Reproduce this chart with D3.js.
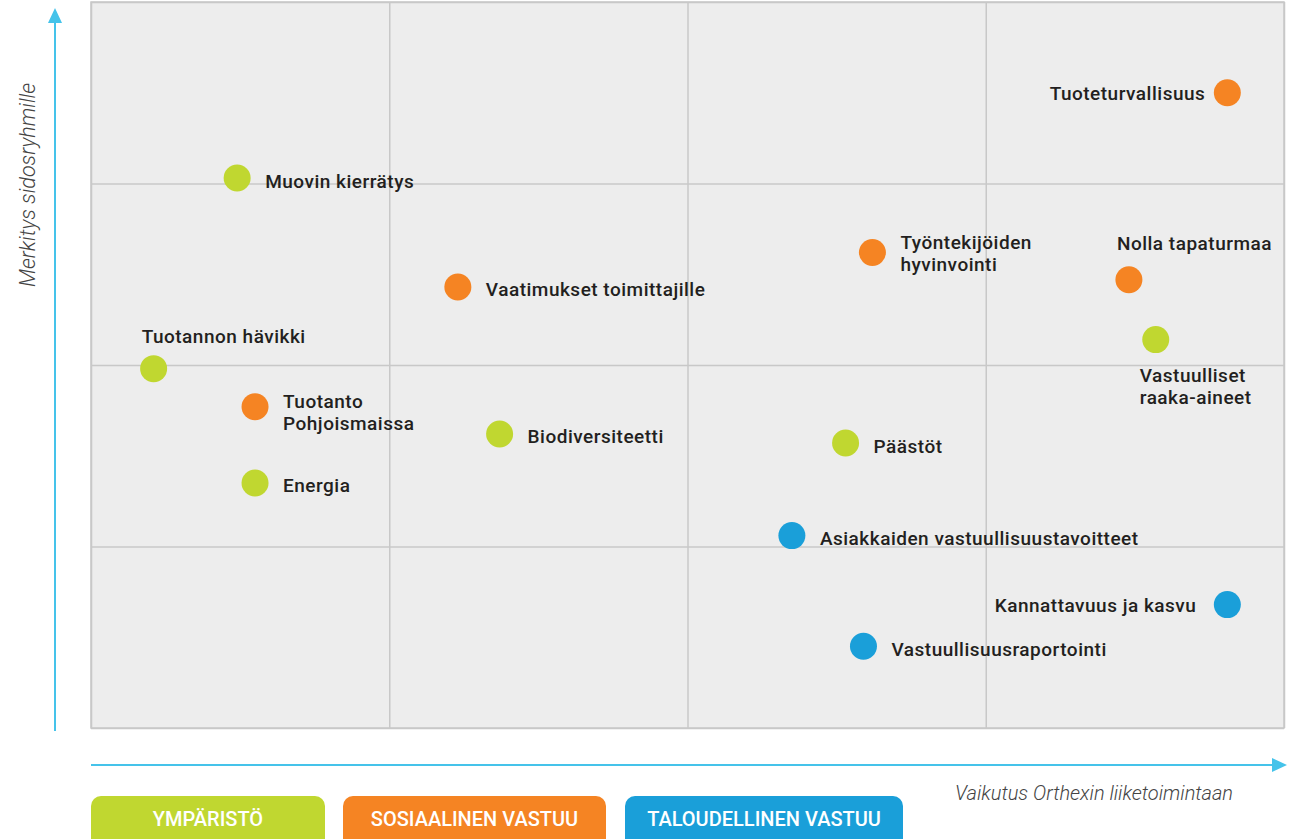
<!DOCTYPE html>
<html><head><meta charset="utf-8">
<script src="https://cdn.jsdelivr.net/npm/d3@7"></script>
<style>body{margin:0;background:#fff;}svg{display:block;}</style>
</head><body>
<svg id="chart" width="1294" height="839"></svg>
<script>
// ---- data ----
const topics = ["Tuoteturvallisuus","Muovin kierrätys","Työntekijöiden\nhyvinvointi","Nolla tapaturmaa","Vaatimukset toimittajille","Vastuulliset\nraaka-aineet","Tuotannon hävikki","Tuotanto\nPohjoismaissa","Biodiversiteetti","Päästöt","Energia","Asiakkaiden vastuullisuustavoitteet","Kannattavuus ja kasvu","Vastuullisuusraportointi"];
const impact =     [3.81, 0.49, 2.62, 3.48, 1.23, 3.57, 0.21, 0.55, 1.37, 2.53, 0.55, 2.35, 3.81, 2.59];
const importance = [3.50, 3.03, 2.62, 2.47, 2.43, 2.14, 1.98, 1.77, 1.62, 1.57, 1.35, 1.06, 0.68, 0.45];
const group =      ["S","E","S","S","S","E","E","S","E","E","E","T","T","T"];
const groupKeys = ["E","S","T"];
const groupNames = ["YMPÄRISTÖ","SOSIAALINEN VASTUU","TALOUDELLINEN VASTUU"];
const xTitle = "Vaikutus Orthexin liiketoimintaan";
const yTitle = "Merkitys sidosryhmille";
// label placement (style only): r=right, l=left, a=above, b=below
const labelSide = ["l","r","r","a","r","b","a","r","r","r","r","r","l","r"];

// ---- layout ----
const svg = d3.select("#chart");
const L = 91, R = 1284, T = 2, B = 728;
const x = d3.scaleLinear().domain([0,4]).range([L,R]);
const y = d3.scaleLinear().domain([0,4]).range([B,T]);
const color = d3.scaleOrdinal().domain(groupKeys).range(["#c0d730","#f58423","#1a9fd9"]);

svg.append("rect").attr("x",L).attr("y",T).attr("width",R-L).attr("height",B-T)
  .attr("fill","#ededed").attr("stroke","#c8c8c8").attr("stroke-width",1.5);

const gx = svg.append("g").attr("transform",`translate(0,${B})`)
  .call(d3.axisBottom(x).ticks(4).tickSize(-(B-T)).tickFormat(""));
const gy = svg.append("g").attr("transform",`translate(${L},0)`)
  .call(d3.axisLeft(y).ticks(4).tickSize(-(R-L)).tickFormat(""));
[gx,gy].forEach(g=>{g.select(".domain").remove();
  g.selectAll(".tick line").attr("stroke","#c8c8c8").attr("stroke-width",1.5);});

// arrows
const ac = "#45c3ea";
svg.append("line").attr("x1",55).attr("x2",55).attr("y1",731).attr("y2",20).attr("stroke",ac).attr("stroke-width",2);
svg.append("path").attr("d","M55,8 L48,23 L62,23 Z").attr("fill",ac);
svg.append("line").attr("x1",91).attr("x2",1274).attr("y1",765).attr("y2",765).attr("stroke",ac).attr("stroke-width",2);
svg.append("path").attr("d","M1287,765 L1272,758 L1272,772 Z").attr("fill",ac);

svg.append("text").attr("x",1094).attr("y",800).attr("text-anchor","middle")
  .attr("font-family","Roboto").attr("font-weight",300).attr("font-style","italic")
  .attr("font-size",20).attr("fill","#444").text(xTitle);
svg.append("text").attr("transform","translate(35,185) rotate(-90)").attr("text-anchor","middle")
  .attr("font-family","Roboto").attr("font-weight",300).attr("font-style","italic")
  .attr("font-size",21.5).attr("fill","#444").text(yTitle);

// points
const idx = d3.range(topics.length);
const g = svg.append("g");
g.selectAll("circle").data(idx).join("circle")
  .attr("cx",i=>x(impact[i])).attr("cy",i=>y(importance[i])).attr("r",13.5)
  .attr("fill",i=>color(group[i]));

const lh = 22;
const labelRows = [];
idx.forEach(i=>{
  const cx = x(impact[i]), cy = y(importance[i]);
  const lines = topics[i].split("\n");
  const s = labelSide[i];
  let tx, ty, anchor="start";
  if(s==="r"){ tx=cx+28; ty = lines.length>1 ? cy+7-(i===7?6:10) : cy+9.5; }
  else if(s==="l"){ tx=cx-(i===12?31:22); ty=cy+7; anchor="end"; }
  else if(s==="a"){ tx=cx-12; ty=cy-(i===6?26:30); }
  else { tx=cx-16; ty=cy+42; }
  lines.forEach((ln,k)=>labelRows.push({tx, ty:ty+k*lh, anchor, ln}));
});
g.selectAll("text.lab").data(labelRows).join("text").attr("class","lab")
  .attr("font-family","Roboto").attr("font-weight",500).attr("font-size",19)
  .attr("letter-spacing",0.5).attr("fill","#231f20")
  .attr("x",d=>d.tx).attr("y",d=>d.ty).attr("text-anchor",d=>d.anchor).text(d=>d.ln);

// legend
const lx = [91,343,625], lw = [234,263,278];
const lg = svg.append("g");
groupKeys.forEach((k,j)=>{
  lg.append("rect").attr("x",lx[j]).attr("y",796).attr("width",lw[j]).attr("height",56)
    .attr("rx",10).attr("fill",color(k));
  lg.append("text").attr("x",lx[j]+lw[j]/2).attr("y",826).attr("text-anchor","middle")
    .attr("font-family","Roboto").attr("font-weight",500).attr("font-size",20).attr("fill","#fff")
    .text(groupNames[j]);
});
</script>
</body></html>
